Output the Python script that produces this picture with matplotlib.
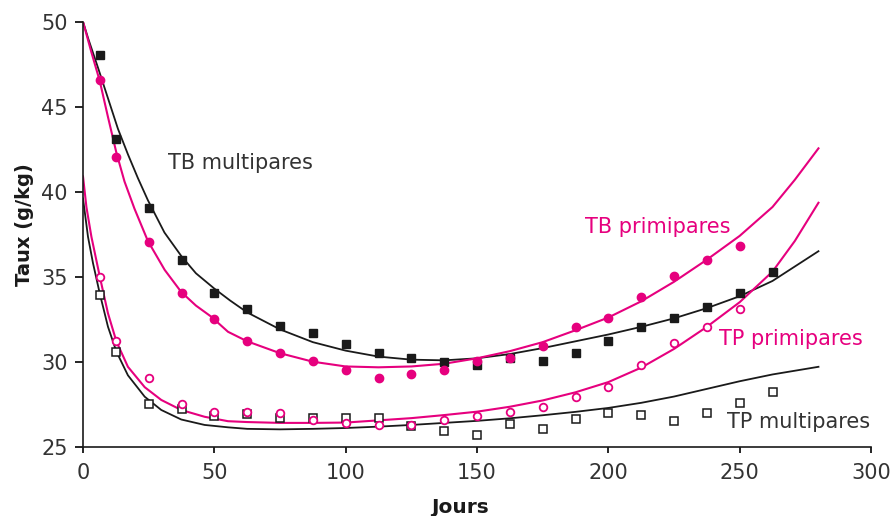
import numpy as np
import matplotlib.pyplot as plt

pink = '#E6007E'
dark = '#1a1a1a'
txt = '#333333'

# observed means (days after calving)
jours = [6.5, 12.5, 25, 37.5, 50, 62.5, 75, 87.5, 100, 112.5, 125, 137.5,
         150, 162.5, 175, 187.5, 200, 212.5, 225, 237.5, 250, 262.5]

tb_multi = [48.06, 43.1, 39.06, 36.0, 34.06, 33.1, 32.1, 31.7, 31.06, 30.5, 30.2,
            30.0, 29.8, 30.2, 30.06, 30.5, 31.2, 32.06, 32.6, 33.2, 34.06, 35.3]
tb_prim = [46.6, 42.06, 37.06, 34.06, 32.5, 31.2, 30.5, 30.06, 29.5, 29.06, 29.3,
           29.5, 30.06, 30.2, 30.9, 32.06, 32.6, 33.8, 35.06, 36.0, 36.8]
tp_prim = [35.0, 31.2, 29.06, 27.5, 27.06, 27.06, 27.0, 26.6, 26.4, 26.3, 26.3,
           26.6, 26.8, 27.06, 27.35, 27.9, 28.5, 29.8, 31.1, 32.06, 33.1]
tp_multi = [33.9, 30.6, 27.5, 27.2, 26.8, 26.9, 26.7, 26.7, 26.7, 26.7, 26.2,
            25.9, 25.7, 26.35, 26.06, 26.65, 27.0, 26.85, 26.5, 27.0, 27.6, 28.2]

# fitted curves
c_tb_multi_x = [0, 2, 5.7, 9.5, 13.3, 17.1, 20.9, 24.7, 31, 37.5, 43, 50, 56, 62.5,
                75, 87.5, 100, 112.5, 125, 137.5, 150, 162.5, 175, 187.5, 200,
                212.5, 225, 237.5, 250, 262.5, 280]
c_tb_multi_y = [50, 49.0, 47.3, 45.5, 43.7, 42.2, 40.8, 39.5, 37.6, 36.2, 35.2, 34.3,
                33.6, 32.9, 31.9, 31.15, 30.65, 30.3, 30.12, 30.08, 30.2, 30.45, 30.8,
                31.2, 31.6, 32.05, 32.55, 33.15, 33.85, 34.75, 36.5]

c_tb_prim_x = [0, 3.2, 6.4, 9.5, 12.7, 15.8, 19.6, 24.7, 31.1, 37.4, 43, 48.8, 55.2,
               62.5, 75, 87.5, 100, 112.5, 125, 137.5, 150, 162.5, 175, 187.5, 200,
               212.5, 225, 237.5, 250, 262.5, 271, 280]
c_tb_prim_y = [50, 48.2, 46.5, 44.4, 42.3, 40.6, 39.0, 37.1, 35.4, 34.1, 33.3, 32.65,
               31.76, 31.2, 30.5, 30.0, 29.72, 29.67, 29.72, 29.88, 30.2, 30.62, 31.15,
               31.85, 32.6, 33.55, 34.7, 36.0, 37.4, 39.1, 40.7, 42.55]

c_tp_prim_x = [0, 1.3, 3.2, 6.4, 9.5, 12.7, 17.1, 23.5, 29.8, 37.4, 46.3, 55.2, 62.5,
               75, 87.5, 100, 112.5, 125, 137.5, 150, 162.5, 175, 187.5, 200, 212.5,
               225, 237.5, 250, 262.5, 271, 280]
c_tp_prim_y = [40.9, 39.1, 37.35, 35.0, 32.85, 31.2, 29.7, 28.5, 27.75, 27.16, 26.76,
               26.5, 26.45, 26.4, 26.4, 26.42, 26.55, 26.68, 26.86, 27.06, 27.35,
               27.72, 28.2, 28.8, 29.65, 30.75, 32.05, 33.5, 35.3, 37.1, 39.35]

c_tp_multi_x = [0, 1.9, 3.8, 6.4, 9.5, 12.7, 17.1, 23.5, 29.8, 37.4, 46.3, 55.2, 62.5,
                75, 87.5, 100, 112.5, 125, 137.5, 150, 162.5, 175, 187.5, 200, 212.5,
                225, 237.5, 250, 262.5, 280]
c_tp_multi_y = [39.6, 37.35, 35.8, 34.0, 32.06, 30.6, 29.2, 27.94, 27.16, 26.6, 26.28,
                26.14, 26.05, 26.02, 26.05, 26.1, 26.18, 26.28, 26.4, 26.52, 26.67,
                26.85, 27.05, 27.28, 27.58, 27.95, 28.4, 28.85, 29.25, 29.7]

fig = plt.figure(figsize=(8.93, 5.16), dpi=100)
ax = fig.add_axes([83 / 893, 1 - 446.7 / 516, (871 - 83) / 893, (446.7 - 21.7) / 516])

ax.plot(c_tb_multi_x, c_tb_multi_y, color=dark, lw=1.3)
ax.plot(c_tp_multi_x, c_tp_multi_y, color=dark, lw=1.3)
ax.plot(c_tb_prim_x, c_tb_prim_y, color=pink, lw=1.5)
ax.plot(c_tp_prim_x, c_tp_prim_y, color=pink, lw=1.5)

ax.plot(jours, tb_multi, 's', color=dark, ms=5.5)
ax.plot(jours, tp_multi, 's', mfc='white', mec=dark, ms=5.3, mew=1.1)
ax.plot(jours[:len(tb_prim)], tb_prim, 'o', color=pink, ms=6)
ax.plot(jours[:len(tp_prim)], tp_prim, 'o', mfc='white', mec=pink, ms=5.5, mew=1.3)

ax.text(32.4, 41.32, 'TB multipares', color=txt, fontsize=15)
ax.text(191.1, 37.55, 'TB primipares', color=pink, fontsize=15)
ax.text(242.2, 30.98, 'TP primipares', color=pink, fontsize=15)
ax.text(245, 26.08, 'TP multipares', color=txt, fontsize=15)

ax.set_xlim(0, 300)
ax.set_ylim(25, 50)
ax.set_xticks(np.arange(0, 301, 50))
ax.set_yticks(np.arange(25, 51, 5))
ax.spines['top'].set_visible(False)
ax.spines['right'].set_visible(False)
for s in ['left', 'bottom']:
    ax.spines[s].set_linewidth(1.2)
    ax.spines[s].set_color(dark)
ax.tick_params(axis='x', length=4, width=1.2, pad=8, labelsize=15, labelcolor=txt)
ax.tick_params(axis='y', length=6, width=1.2, pad=5, labelsize=15, labelcolor=txt)

fig.text(460 / 893, 1 - 498 / 516, 'Jours', fontsize=14.5, fontweight='bold',
         color=dark, ha='center', va='top')
fig.text(25 / 893, 1 - 225 / 516, 'Taux (g/kg)', fontsize=14, fontweight='bold',
         color=dark, ha='center', va='center', rotation=90)

fig.savefig('out.png', dpi=100)
